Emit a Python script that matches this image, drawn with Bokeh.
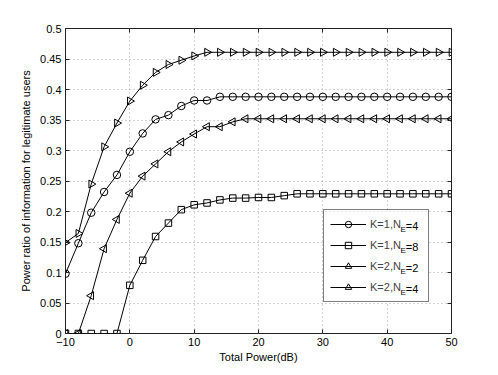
import math
from bokeh.plotting import figure
from bokeh.models import Range1d, FixedTicker, LinearAxis, Legend, LegendItem, BoxAnnotation
from bokeh.core.properties import value
from bokeh.embed import file_html
from bokeh.resources import INLINE

# ---------------- data ----------------
power_db = [-10, -8, -6, -4, -2, 0, 2, 4, 6, 8, 10, 12, 14, 16, 18, 20,
            22, 24, 26, 28, 30, 32, 34, 36, 38, 40, 42, 44, 46, 48, 50]

k1_ne4 = [0.098, 0.148, 0.198, 0.232, 0.260, 0.298, 0.328, 0.351, 0.358, 0.373,
          0.382, 0.382, 0.388, 0.388, 0.388, 0.388, 0.388, 0.388, 0.388, 0.388,
          0.388, 0.388, 0.388, 0.388, 0.388, 0.388, 0.388, 0.388, 0.388, 0.388, 0.388]

k1_ne8 = [0.0, 0.0, 0.0, 0.0, 0.0, 0.079, 0.120, 0.159, 0.181, 0.203,
          0.211, 0.214, 0.219, 0.222, 0.222, 0.223, 0.223, 0.226, 0.229, 0.229,
          0.229, 0.229, 0.229, 0.229, 0.229, 0.229, 0.229, 0.229, 0.229, 0.229, 0.229]

k2_ne2 = [0.149, 0.164, 0.245, 0.306, 0.345, 0.381, 0.407, 0.428, 0.441, 0.448,
          0.455, 0.461, 0.461, 0.461, 0.461, 0.461, 0.461, 0.461, 0.461, 0.461,
          0.461, 0.461, 0.461, 0.461, 0.461, 0.461, 0.461, 0.461, 0.461, 0.461, 0.461]

k2_ne4 = [0.0, 0.0, 0.062, 0.139, 0.187, 0.230, 0.258, 0.278, 0.298, 0.314,
          0.327, 0.339, 0.339, 0.347, 0.352, 0.352, 0.352, 0.352, 0.352, 0.352,
          0.352, 0.352, 0.352, 0.352, 0.352, 0.352, 0.352, 0.352, 0.352, 0.352, 0.352]

series_values = [k1_ne4, k1_ne8, k2_ne2, k2_ne4]
series_main = ["K=1,N", "K=1,N", "K=2,N", "K=2,N"]
series_sub = ["E", "E", "E", "E"]
series_tail = ["=4", "=8", "=2", "=4"]

x_ticks = [-10, 0, 10, 20, 30, 40, 50]
x_tick_labels = ["\u221210", "0", "10", "20", "30", "40", "50"]
y_ticks = [0, 0.05, 0.1, 0.15, 0.2, 0.25, 0.3, 0.35, 0.4, 0.45, 0.5]
y_tick_labels = ["0", "0.05", "0.1", "0.15", "0.2", "0.25", "0.3", "0.35", "0.4", "0.45", "0.5"]

x_label = "Total Power(dB)"
y_label = "Power ratio of information for legitimate users"

X_MIN, X_MAX, Y_MIN, Y_MAX = -10, 50, 0, 0.5

# ---------------- styling ----------------
FONT = "Liberation Sans"
FS = "11px"
FRAME_W, FRAME_H = 386, 305
markers = [("circle", 7.5, 0.0), ("square", 6.5, 0.0),
           ("triangle", 8.0, -math.pi / 2), ("triangle", 8.0, math.pi / 2)]

p = figure(frame_width=FRAME_W, frame_height=FRAME_H,
           min_border_left=65, min_border_right=40,
           min_border_top=28, min_border_bottom=40,
           x_range=Range1d(X_MIN, X_MAX), y_range=Range1d(Y_MIN, Y_MAX),
           output_backend="svg", toolbar_location=None,
           background_fill_color="white", border_fill_color="white")

p.outline_line_color = "#222222"
p.outline_line_width = 1

for ax, ticks, labels in ((p.xaxis[0], x_ticks, x_tick_labels), (p.yaxis[0], y_ticks, y_tick_labels)):
    ax.ticker = FixedTicker(ticks=ticks)
    ax.major_label_overrides = dict(zip(ticks, labels))
    ax.major_tick_in = 4
    ax.major_tick_out = 0
    ax.minor_tick_in = 0
    ax.minor_tick_out = 0
    ax.axis_line_color = None
    ax.major_tick_line_color = "#222222"
    ax.major_label_text_font = FONT
    ax.major_label_text_font_size = FS
    ax.major_label_text_color = "black"
    ax.axis_label_text_font = FONT
    ax.axis_label_text_font_size = FS
    ax.axis_label_text_font_style = "normal"
    ax.axis_label_text_color = "black"

p.xaxis.axis_label = x_label
p.yaxis.axis_label = y_label
p.xaxis.major_label_standoff = 4
p.yaxis.major_label_standoff = 4
p.xaxis.axis_label_standoff = 2
p.yaxis.axis_label_standoff = 5

# mirror axes (ticks only) on top and right, like a boxed MATLAB axes
top_ax = LinearAxis(ticker=FixedTicker(ticks=x_ticks),
                    major_label_overrides={t: "" for t in x_ticks})
right_ax = LinearAxis(ticker=FixedTicker(ticks=y_ticks),
                      major_label_overrides={t: "" for t in y_ticks})
for ax in (top_ax, right_ax):
    ax.major_tick_in = 4
    ax.major_tick_out = 0
    ax.minor_tick_in = 0
    ax.minor_tick_out = 0
    ax.axis_line_color = None
    ax.major_tick_line_color = "#222222"
    ax.major_label_standoff = 0
p.add_layout(top_ax, "above")
p.add_layout(right_ax, "right")

for g in (p.xgrid[0], p.ygrid[0]):
    g.grid_line_color = "#a6a6a6"
    g.grid_line_dash = "1 3"
    g.grid_line_width = 1


def px_to_x(px):
    return X_MIN + px / FRAME_W * (X_MAX - X_MIN)


def px_to_y(py):
    return Y_MIN + py / FRAME_H * (Y_MAX - Y_MIN)


# legend geometry (pixels from the frame's bottom-left corner)
LEG_X, LEG_Y = 258, 31
PAD, GLYPH_W, GLYPH_H, SPACING, STANDOFF, LABEL_W = 6, 36, 16, 5, 4, 52
n_rows = len(series_values)
leg_w = 2 * PAD + GLYPH_W + STANDOFF + LABEL_W
leg_h = 2 * PAD + n_rows * GLYPH_H + (n_rows - 1) * SPACING

# white backing for the legend, above the grid but below the curves
p.add_layout(BoxAnnotation(left=px_to_x(LEG_X), right=px_to_x(LEG_X + leg_w),
                           bottom=px_to_y(LEG_Y), top=px_to_y(LEG_Y + leg_h),
                           fill_color="white", fill_alpha=1.0, line_color=None,
                           level="underlay"))

items = []
for vals, (mk, sz, ang), main in zip(series_values, markers, series_main):
    lr = p.line(power_db, vals, line_color="black", line_width=1)
    sr = p.scatter(power_db, vals, marker=mk, size=sz, angle=ang,
                   fill_color=None, line_color="black", line_width=1)
    items.append(LegendItem(label=main, renderers=[lr, sr]))

legend = Legend(items=items, location=(LEG_X, LEG_Y),
                padding=PAD, margin=0, spacing=SPACING,
                glyph_width=GLYPH_W, glyph_height=GLYPH_H,
                label_standoff=STANDOFF, label_width=LABEL_W, label_height=GLYPH_H,
                label_text_font=FONT, label_text_font_size=FS,
                label_text_baseline="middle",
                border_line_color="black", border_line_width=1,
                background_fill_alpha=0.0)
p.add_layout(legend, "center")

# subscripts and tails of the legend labels (N_E)
main_w = 11 * (0.667 + 0.584 + 0.556 + 0.278 + 0.722)
sub_w = 8 * 0.667
text_x = LEG_X + PAD + GLYPH_W + STANDOFF
legend_top = LEG_Y + leg_h
row_cy = [legend_top - PAD - GLYPH_H / 2 - i * (GLYPH_H + SPACING) for i in range(n_rows)]

p.text(x=[px_to_x(text_x + main_w)] * n_rows, y=[px_to_y(c - 4) for c in row_cy],
       text=series_sub, text_font=value(FONT), text_font_size=value("8px"),
       text_baseline="middle", text_align="left", text_color="black")
p.text(x=[px_to_x(text_x + main_w + sub_w)] * n_rows, y=[px_to_y(c) for c in row_cy],
       text=series_tail, text_font=value(FONT), text_font_size=value(FS),
       text_baseline="middle", text_align="left", text_color="black")

open("out.html", "w").write(file_html(p, INLINE))
